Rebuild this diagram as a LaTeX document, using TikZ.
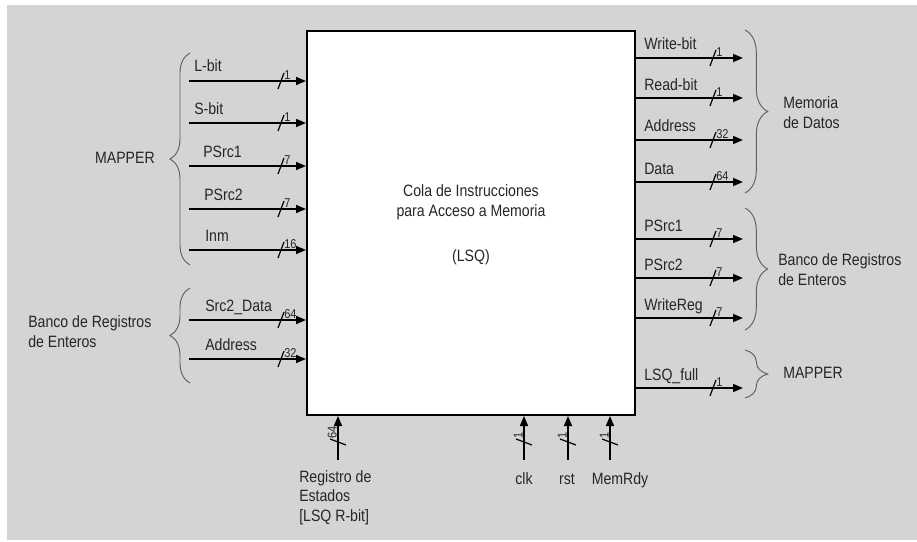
\documentclass[tikz,border=0pt]{standalone}
\usepackage{fontspec}
\setmainfont{Liberation Sans}[FakeStretch=0.86]
\usetikzlibrary{arrows.meta,decorations.pathreplacing,calc}

\definecolor{bggray}{RGB}{213,211,212}
\definecolor{bracegray}{RGB}{95,95,95}

% bus width mark: [rotation]{name}{point}{width}
\newcommand{\busmark}[4][0]{%
  \begin{scope}[shift={(#3)}, rotate=#1]
    \draw[slash] (-3,8) -- (3,-8);
    \node[buslbl, rotate=#1] (#2) at (3,-1) {#4};
  \end{scope}}

\begin{document}
\begin{tikzpicture}[x=0.75pt, y=-0.75pt,
    every node/.style={font=\fontsize{12.3}{14.8}\selectfont, text=black!85},
    lsqbox/.style={draw, line width=1.5pt, fill=white, minimum width=246pt, minimum height=288pt, inner sep=0},
    wire/.style={line width=1.2pt, -{Triangle[length=7.5pt,width=6pt]}},
    slash/.style={line width=0.9pt},
    buslbl/.style={font=\fontsize{9.6}{10}\selectfont, anchor=south west, inner sep=0},
    brc/.style={decorate, decoration={brace, amplitude=15pt}, draw=bracegray, line width=0.7pt},
    brcr/.style={decorate, decoration={brace, amplitude=17pt}, draw=bracegray, line width=0.7pt},
    lbl/.style={anchor=base west, inner sep=0}]

    % Frame
    \useasboundingbox (0,0) rectangle (917,542);
    \fill[white] (0,0) rectangle (917,542);
    \fill[bggray] (7,5) rectangle (917,540);

    % Main block
    \node[lsqbox] (lsq) at (471,223) {};
    \node[align=center, inner sep=0] (lsq-title) at (471,202) {Cola de Instrucciones\\para Acceso a Memoria};
    \node[inner sep=0] (lsq-abbr) at (471,257) {(LSQ)};

    % Inputs from the left
    \foreach \n/\y/\tx/\t/\w in {lbit/81/194/L-bit/1, sbit/123/194/S-bit/1,
        ipsrc1/166/203/PSrc1/7, ipsrc2/209/204/PSrc2/7, inm/250/205/Inm/16,
        src2/320/205/Src2\_Data/64, iaddr/359/205/Address/32} {
      \coordinate (\n) at (189,\y);
      \draw[wire] (\n) -- (\n -| lsq.west);
      \node[lbl] (\n-t) at (\tx,\y-9) {\t};
      \busmark{\n-w}{281,\y}{\w}
    }

    % Outputs to the right
    \foreach \n/\y/\t/\w in {wbit/58/Write-bit/1, rbit/98/Read-bit/1,
        oaddr/140/Address/32, odata/182/Data/64, opsrc1/239/PSrc1/7,
        opsrc2/278/PSrc2/7, wreg/318/WriteReg/7, lsqfull/388/LSQ\_full/1} {
      \coordinate (\n) at (743,\y);
      \draw[wire] (\n -| lsq.east) -- (\n);
      \node[lbl] (\n-t) at (644,\y-8) {\t};
      \busmark{\n-w}{713,\y}{\w}
    }

    % Inputs from below
    \foreach \n/\x/\w in {rbit-in/338/64, clk/524/1, rst/568/1, memrdy/610/1} {
      \coordinate (\n) at (\x,460);
      \draw[wire] (\n) -- (\n |- lsq.south);
      \busmark[90]{\n-w}{\x,442}{\w}
    }
    \node[anchor=north west, align=left, inner sep=0] (rbit-t) at (299,470) {Registro de\\Estados\\{[}LSQ R-bit{]}};
    \node[anchor=base, inner sep=0] (clk-t) at (524,484) {clk};
    \node[anchor=base, inner sep=0] (rst-t) at (567,484) {rst};
    \node[anchor=base, inner sep=0] (memrdy-t) at (620,484) {MemRdy};

    % Braces on the left
    \draw[brc] (190,265) -- (190,53);
    \node[anchor=east, inner sep=0] (mapper-in) at (155,158) {MAPPER};
    \draw[brc] (190,383) -- (190,288);
    \node[anchor=west, align=left, inner sep=0] (banco-in) at (28,332) {Banco de Registros\\de Enteros};

    % Braces on the right
    \draw[brcr] (745,30) -- (745,193);
    \node[anchor=west, align=left, inner sep=0] (mem-out) at (783,113) {Memoria\\de Datos};
    \draw[brcr] (745,208) -- (745,330);
    \node[anchor=west, align=left, inner sep=0] (banco-out) at (778,270) {Banco de Registros\\de Enteros};
    \draw[brcr] (745,350) -- (745,398);
    \node[anchor=west, inner sep=0] (mapper-out) at (783,373) {MAPPER};

\end{tikzpicture}
\end{document}
